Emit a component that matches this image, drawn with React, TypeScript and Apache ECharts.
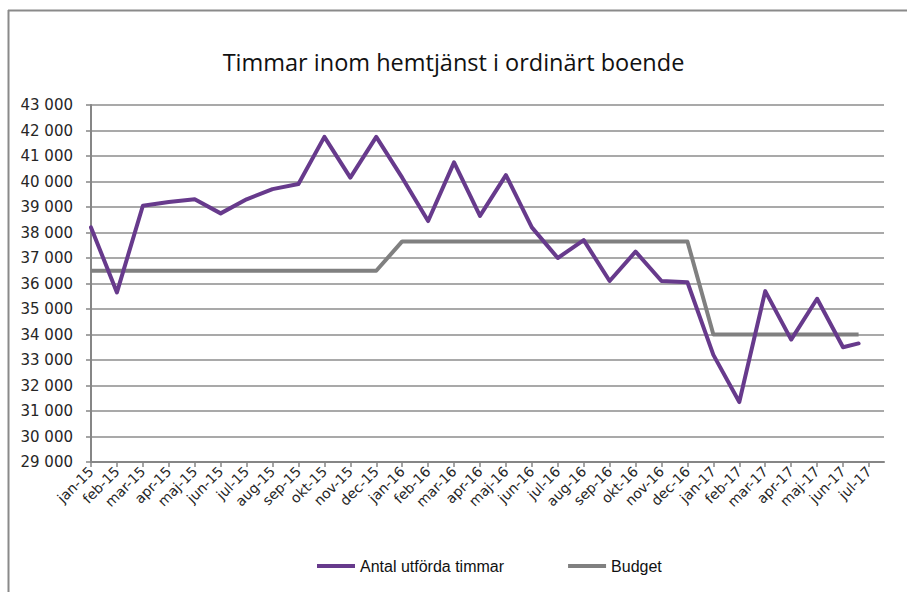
import React, { useEffect, useRef } from "react";
import * as echarts from "echarts";

const TITLE = "Timmar inom hemtjänst i ordinärt boende";
const MONTHS = [
  "jan-15", "feb-15", "mar-15", "apr-15", "maj-15", "jun-15", "jul-15", "aug-15", "sep-15", "okt-15", "nov-15", "dec-15",
  "jan-16", "feb-16", "mar-16", "apr-16", "maj-16", "jun-16", "jul-16", "aug-16", "sep-16", "okt-16", "nov-16", "dec-16",
  "jan-17", "feb-17", "mar-17", "apr-17", "maj-17", "jun-17", "jul-17",
];
const TICK_POS = [0, 1, 2, 3, 4, 5, 6, 7, 8, 9, 10, 11, 12, 13, 14, 15, 16, 17, 18, 19, 20, 21, 22, 23, 24, 25, 26, 27, 28, 29, 30];
// x position of each observation, in months from jan-15
const X_POS = [0, 1, 2, 3, 4, 5, 6, 7, 8, 9, 10, 11, 12, 13, 14, 15, 16, 17, 18, 19, 20, 21, 22, 23, 24, 25, 26, 27, 28, 29, 29.6];
const ANTAL = [
  38200, 35650, 39050, 39200, 39300, 38750, 39300, 39700, 39900, 41750, 40150, 41750,
  40150, 38450, 40750, 38650, 40250, 38200, 37000, 37700, 36100, 37250, 36100, 36050,
  33200, 31350, 35700, 33800, 35400, 33500, 33650,
];
const BUDGET = [
  36500, 36500, 36500, 36500, 36500, 36500, 36500, 36500, 36500, 36500, 36500, 36500,
  37650, 37650, 37650, 37650, 37650, 37650, 37650, 37650, 37650, 37650, 37650, 37650,
  34000, 34000, 34000, 34000, 34000, 34000, 34000,
];
const SERIES_NAMES = ["Antal utförda timmar", "Budget"];
const Y_MIN = 29000;
const Y_MAX = 43000;
const Y_STEP = 1000;

export default function App() {
  const ref = useRef<HTMLDivElement>(null);
  useEffect(() => {
    if (!ref.current) return;
    const chart = echarts.init(ref.current, undefined, { renderer: "svg" });
    const pairs = (ys: number[]) => ys.map((y, i) => [X_POS[i], y]);
    chart.setOption({
      animation: false,
      backgroundColor: "#ffffff",
      title: {
        text: TITLE,
        left: "center",
        top: 45,
        textStyle: { fontFamily: "Open Sans", fontSize: 23.5, fontWeight: "normal", color: "#111" },
      },
      legend: {
        left: 312,
        top: 553,
        itemGap: 64,
        itemWidth: 38,
        itemHeight: 4,
        icon: "rect",
        textStyle: { fontFamily: "Liberation Sans", fontSize: 16, color: "#111" },
        data: SERIES_NAMES,
      },
      graphic: [
        { type: "line", shape: { x1: 8.5, y1: 10, x2: 8.5, y2: 592 }, style: { stroke: "#8a8a8a", lineWidth: 2 } },
        { type: "line", shape: { x1: 8, y1: 10.5, x2: 907, y2: 10.5 }, style: { stroke: "#8a8a8a", lineWidth: 2 } },
      ],
      grid: { left: 91, right: 23, top: 105, bottom: 130, containLabel: false },
      xAxis: {
        type: "value",
        min: 0,
        max: 30.58,
        interval: 1,
        splitLine: { show: false },
        axisLine: { show: true, lineStyle: { color: "#868686", width: 2 } },
        axisTick: { show: true, length: 5, customValues: TICK_POS, lineStyle: { color: "#868686", width: 1.5 } },
        axisLabel: {
          customValues: TICK_POS,
          rotate: 45,
          margin: 7,
          fontFamily: "DejaVu Sans",
          fontSize: 14,
          color: "#262626",
          formatter: (v: number) => MONTHS[Math.round(v)] ?? "",
        },
      },
      yAxis: {
        type: "value",
        min: Y_MIN,
        max: Y_MAX,
        interval: Y_STEP,
        axisLine: { show: true, lineStyle: { color: "#868686", width: 2 } },
        axisTick: { show: true, length: 5, lineStyle: { color: "#868686", width: 1.5 } },
        splitLine: { show: true, lineStyle: { color: "#8c8c8c", width: 1.5 } },
        axisLabel: {
          margin: 18,
          fontFamily: "DejaVu Sans",
          fontSize: 15,
          color: "#262626",
          formatter: (v: number) => String(v).replace(/\B(?=(\d{3})+(?!\d))/g, " "),
        },
      },
      series: [
        {
          name: SERIES_NAMES[0],
          type: "line",
          data: pairs(ANTAL),
          showSymbol: false,
          symbol: "none",
          lineStyle: { color: "#673a8c", width: 4, join: "round", cap: "round" },
          itemStyle: { color: "#673a8c" },
          z: 3,
        },
        {
          name: SERIES_NAMES[1],
          type: "line",
          data: pairs(BUDGET),
          showSymbol: false,
          symbol: "none",
          lineStyle: { color: "#808080", width: 4, join: "round" },
          itemStyle: { color: "#808080" },
          z: 2,
        },
      ],
    });
    return () => chart.dispose();
  }, []);
  return (
    <div
      ref={ref}
      style={{ position: "fixed", left: 0, top: 0, width: 907, height: 592, background: "#fff" }}
    />
  );
}
